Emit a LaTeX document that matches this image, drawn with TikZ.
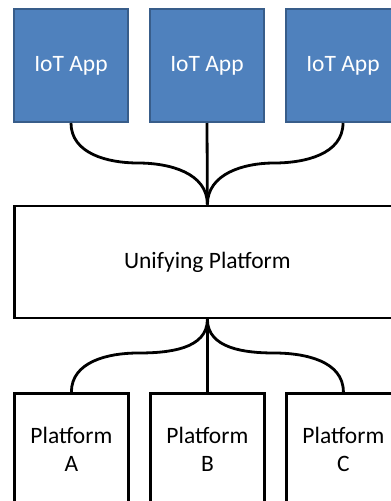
\documentclass[tikz,border=0pt]{standalone}
\usepackage{fontspec}
\setmainfont{Carlito}
\definecolor{appfill}{HTML}{4F81BD}
\definecolor{appdraw}{HTML}{385D8A}
\begin{document}
\begin{tikzpicture}[x=1pt,y=1pt,
  appbox/.style={draw=appdraw, line width=2pt, fill=appfill, text=white,
    minimum width=114pt, minimum height=113pt, inner sep=0pt, anchor=north west,
    font=\fontsize{23.5}{28}\selectfont},
  platbox/.style={draw=black, line width=2.8pt, fill=white,
    minimum width=114pt, minimum height=112pt, inner sep=0pt, anchor=north west,
    align=center, font=\fontsize{23.5}{28}\selectfont},
  unibox/.style={draw=black, line width=2.8pt, fill=white,
    minimum width=386pt, minimum height=112pt, inner sep=0pt, anchor=north west,
    font=\fontsize{23.5}{28}\selectfont},
  link/.style={draw=black, line width=2.8pt}]
\useasboundingbox (0,0) rectangle (391,-501);
\node[appbox] (app1) at (13,-8) {IoT App};
\node[appbox] (app2) at (149,-8) {IoT App};
\node[appbox] (app3) at (285,-8) {IoT App};
\node[unibox] (uni) at (13,-204.5) {Unifying Platform};
\node[platbox] (pa) at (13,-392) {Platform\\A};
\node[platbox] (pb) at (149,-392) {Platform\\B};
\node[platbox] (pc) at (285,-392) {Platform\\C};
\coordinate (tl) at (138,-163);
\coordinate (tr) at (274,-163);
\coordinate (bl) at (138,-353);
\coordinate (br) at (274,-353);
\draw[link] (app1.south) to[out=-90,in=180] (tl) to[out=0,in=90] (uni.north);
\draw[link] (app3.south) to[out=-90,in=0] (tr) to[out=180,in=90] (uni.north);
\draw[link] (app2.south) -- (uni.north);
\draw[link] (pa.north) to[out=90,in=180] (bl) to[out=0,in=-90] (uni.south);
\draw[link] (pc.north) to[out=90,in=0] (br) to[out=180,in=-90] (uni.south);
\draw[link] (pb.north) -- (uni.south);
\end{tikzpicture}
\end{document}
